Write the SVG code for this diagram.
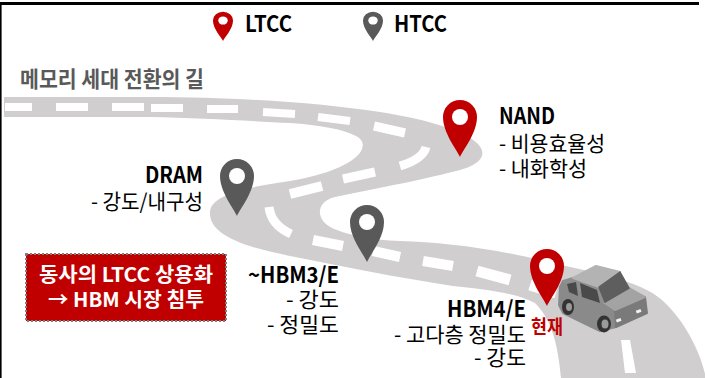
<svg xmlns="http://www.w3.org/2000/svg" width="705" height="378" viewBox="0 0 705 378">
  <style>
    .t { font-family: "Noto Sans CJK KR", "Noto Sans", sans-serif; fill: #000; }
    .b { font-weight: 700; }
    .lbl { font-size: 22px; }
    .sub { font-size: 21px; }
    .dash { fill: none; stroke: #fff; stroke-linecap: butt; }
    .red { fill: #c00000; }
    .gray { fill: #595959; }
  </style>
  <defs>
    <!-- map pin: circle head centred on the origin, tip 40px below -->
    <g id="pin-shape">
      <path d="M0,40 C-3,33 -17,16 -17,0 A17,17 0 0 1 17,0 C17,16 3,33 0,40 Z"/>
      <circle cx="0" cy="0" r="8" fill="#fff"/>
    </g>
  </defs>

  <rect width="705" height="378" fill="#fff"/>
  <!-- frame -->
  <rect x="0" y="2" width="699" height="3" fill="#000"/>
  <rect x="0" y="2" width="1.6" height="376" fill="#000"/>

  <!-- legend -->
  <g id="legend">
    <use href="#pin-shape" class="red" transform="translate(223,20.5) scale(0.59,0.51)"/>
    <text class="t b lbl" x="245" y="32" textLength="47" lengthAdjust="spacingAndGlyphs">LTCC</text>
    <use href="#pin-shape" class="gray" transform="translate(373,20.5) scale(0.59,0.51)"/>
    <text class="t b lbl" x="394" y="32" textLength="53" lengthAdjust="spacingAndGlyphs">HTCC</text>
  </g>

  <text id="title" class="t b" x="20" y="86.5" font-size="22" fill="#595959" style="fill:#595959" textLength="184" lengthAdjust="spacingAndGlyphs">메모리 세대 전환의 길</text>

  <!-- winding road -->
  <g id="road">
    <path fill="#d0cece" d="M4,97 L150,97 C240,97 320,103 380,112 C430,120 465,131 478,144 C489,156 478,165 460,170 C430,178 380,188 335,197 C314,202 315,223 337,230 C352,236 372,240 400,241 C440,242 490,248 540,260 C590,272 640,280 662,300 C684,320 700,350 706,378 L561,378 C558,345 552,320 535,303 C515,292 480,289 453,286 C400,278 340,266 290,256 C240,246 209,234 210,212 C211,196 240,188 290,181 C320,176 345,167 356,157 C364,150 366,141 356,136 C342,129 320,125 290,123 C250,121 200,118 150,117 L4,117 Z"/>
    <g class="dash">
      <path stroke-width="8" d="M5,107 H32 M56,107 H88 M112,107 H144 M151,108 H183 M207,109 H238"/>
      <path stroke-width="8" d="M263,112 L295,114 M318,117 L350,121"/>
      <path stroke-width="9" d="M374,126 L405,133"/>
      <path stroke-width="9" d="M426,147 Q423,159 400,166"/>
      <path stroke-width="9" d="M375,172 L343,179"/>
      <path stroke-width="10" d="M322,186 L290,194"/>
      <path stroke-width="9" d="M269,207 Q271,225 291,234"/>
      <path stroke-width="10" d="M313,240 L343,246"/>
      <path stroke-width="10" d="M373,251 L400,257"/>
      <path stroke-width="10" d="M423,261 L453,266"/>
      <path stroke-width="11" d="M477,271 L510,280"/>
      <path stroke-width="11" d="M530,285 L556,293"/>
    </g>
    <polygon fill="#fff" points="621,340 630,340 636,373 625,373"/>
  </g>

  <!-- car -->
  <g id="car" stroke-linejoin="round">
    <!-- side of body -->
    <path d="M560,287 L563,281 L598,300 L615,310 L616,327 L600,331 L563,313 L559,305 Z" fill="#8a8a8a" stroke="#8a8a8a" stroke-width="2"/>
    <!-- front face -->
    <path d="M615,310 L645,297 L647,313 L616,327 Z" fill="#7a7a7a" stroke="#7a7a7a" stroke-width="2"/>
    <!-- hood -->
    <path d="M603,302 L629,288 L645,297 L615,310 Z" fill="#a3a3a3" stroke="#a3a3a3" stroke-width="2"/>
    <!-- cabin side -->
    <path d="M563,281 L573,278 L599,287 L605,302 L598,300 Z" fill="#8f8f8f" stroke="#8f8f8f" stroke-width="2"/>
    <!-- roof -->
    <path d="M573,278 L596,266 L620,272 L599,287 Z" fill="#b3b3b3" stroke="#b3b3b3" stroke-width="2"/>
    <!-- windshield -->
    <path d="M599,287 L620,272 L629,288 L605,302 Z" fill="#5e5e5e" stroke="#5e5e5e" stroke-width="1.5"/>
    <!-- side windows -->
    <path d="M567,284 L576,282 L578,296 L569,292 Z" fill="#4a4a4a"/>
    <path d="M580,283 L597,290 L600,303 L582,297 Z" fill="#4a4a4a"/>
    <!-- lights -->
    <rect x="616" y="319" width="5" height="3" fill="#f2f2f2" transform="rotate(-22 618 320)"/>
    <rect x="636" y="310" width="5" height="3" fill="#f2f2f2" transform="rotate(-22 638 311)"/>
    <!-- wheels -->
    <ellipse cx="568" cy="307" rx="6" ry="8" fill="#333"/>
    <ellipse cx="569" cy="307" rx="3" ry="4" fill="#9a9a9a"/>
    <ellipse cx="604" cy="324" rx="7" ry="8.5" fill="#333"/>
    <ellipse cx="605" cy="324" rx="3.5" ry="4.5" fill="#9a9a9a"/>
  </g>

  <!-- NAND -->
  <g id="node-nand">
    <use href="#pin-shape" class="red" transform="translate(460,117)"/>
    <text class="t b lbl" x="499" y="124" textLength="56" lengthAdjust="spacingAndGlyphs">NAND</text>
    <text class="t sub" x="499" y="150.5" textLength="106" lengthAdjust="spacingAndGlyphs">- 비용효율성</text>
    <text class="t sub" x="499" y="175.5" textLength="88" lengthAdjust="spacingAndGlyphs">- 내화학성</text>
  </g>

  <!-- DRAM -->
  <g id="node-dram">
    <use href="#pin-shape" class="gray" transform="translate(237,176)"/>
    <text class="t b lbl" x="145" y="183" textLength="58" lengthAdjust="spacingAndGlyphs">DRAM</text>
    <text class="t sub" x="91" y="208.5" textLength="112" lengthAdjust="spacingAndGlyphs">- 강도/내구성</text>
  </g>

  <!-- HBM3/E -->
  <g id="node-hbm3">
    <use href="#pin-shape" class="gray" transform="translate(367,222)"/>
    <text class="t b lbl" x="248" y="283" textLength="91" lengthAdjust="spacingAndGlyphs">~HBM3/E</text>
    <text class="t sub" x="286" y="306.5" textLength="53" lengthAdjust="spacingAndGlyphs">- 강도</text>
    <text class="t sub" x="267" y="331.5" textLength="72" lengthAdjust="spacingAndGlyphs">- 정밀도</text>
  </g>

  <!-- HBM4/E (current) -->
  <g id="node-hbm4">
    <use href="#pin-shape" class="red" transform="translate(547,266)"/>
    <text class="t b" x="531" y="333.5" font-size="19" style="fill:#c00000" textLength="32" lengthAdjust="spacingAndGlyphs">현재</text>
    <text class="t b lbl" x="447" y="317" textLength="79" lengthAdjust="spacingAndGlyphs">HBM4/E</text>
    <text class="t sub" x="394" y="341.5" textLength="132" lengthAdjust="spacingAndGlyphs">- 고다층 정밀도</text>
    <text class="t sub" x="474" y="365" textLength="52" lengthAdjust="spacingAndGlyphs">- 강도</text>
  </g>

  <!-- callout box -->
  <g id="callout">
    <rect x="26" y="254" width="200" height="67" fill="#c00000" stroke="#7f7f7f" stroke-width="2" stroke-dasharray="2 2"/>
    <text class="t b" x="39" y="281.5" font-size="20" style="fill:#fff" textLength="174" lengthAdjust="spacingAndGlyphs">동사의 LTCC 상용화</text>
    <text class="t b" x="48" y="306.5" font-size="20" style="fill:#fff" textLength="156" lengthAdjust="spacingAndGlyphs">→ HBM 시장 침투</text>
  </g>
</svg>
